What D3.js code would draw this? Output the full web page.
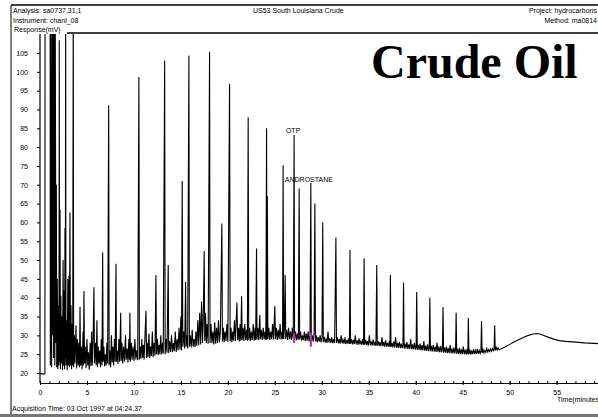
<!DOCTYPE html>
<html><head><meta charset="utf-8">
<script src="https://cdn.jsdelivr.net/npm/d3@7"></script>
<style>body{margin:0;background:#fff}svg{display:block;font-family:"Liberation Sans",Arial,sans-serif}</style>
</head><body><svg id="c" width="598" height="417"></svg>
<script>
const xTickLabels=[0,5,10,15,20,25,30,35,40,45,50,55];
const yTickLabels=[20,25,30,35,40,45,50,55,60,65,70,75,80,85,90,95,100,105];
const headerLeft=["Analysis: sa0737,31,1","Instrument: chanl_08"];
const headerRight=["Project: hydrocarbons","Method: ma0814"];
const sampleName="US53 South Louisiana Crude";
const footerText="Acquisition Time: 03 Oct 1997 at 04:24.37";
const peakLabels=[{name:"OTP",t:27.05,v:83.2},{name:"ANDROSTANE",t:28.83,v:70.5}];
const markTimes=[27.05,28.83];
const markLow=[28.0,27.0];
const markHigh=[30.6,30.6];

const solventTrace=[[0,19.9],[0.3,19.7],[0.52,19.8],[0.54,120],[1.08,120],[1.1,22],[1.14,120],[1.18,25],[1.2,100],[1.24,21.5],[1.28,120],[1.34,30],[1.38,120],[1.45,24],[1.5,120],[1.58,22],[1.62,120],[1.7,28],[1.74,70],[1.78,21.5],[1.84,45],[1.9,21],[1.96,38],[2.02,22],[2.05,108.4],[2.08,23],[2.13,63.5],[2.18,21],[2.22,40.5],[2.28,22.5],[2.34,35],[2.4,20.8],[2.46,50],[2.52,22],[2.58,42],[2.62,21],[2.66,58.5],[2.7,24],[2.73,120],[2.76,22],[2.84,34],[2.9,20.7],[2.96,45],[3.02,22],[3.09,45.8],[3.13,21.5],[3.19,62.6],[3.24,22],[3.3,38],[3.36,21],[3.42,33],[3.48,22],[3.54,120],[3.58,21.5]];
const earlyTrace=[[3.66,30],[3.72,22.5],[3.83,32.6],[3.9,21.2],[3.98,29],[4.06,22],[4.14,28],[4.2,21.5],[4.26,37.6],[4.32,22],[4.4,27],[4.48,21],[4.58,31],[4.62,22],[4.68,41.8],[4.74,22.5],[4.82,27],[4.9,21.3],[5.0,29],[5.08,22],[5.16,25.5],[5.24,20.9],[5.34,28],[5.42,21.8],[5.5,31],[5.56,22],[5.66,30],[5.74,42.8],[5.8,22.5],[5.9,28],[5.98,22],[6.06,34],[6.12,21.5],[6.2,27],[6.28,22.5],[6.36,26],[6.44,21.5],[6.52,29],[6.6,22],[6.67,52],[6.72,23],[6.8,27],[6.88,21.8],[6.96,25],[7.04,22],[7.12,28],[7.2,22.5],[7.31,91.1],[7.36,22],[7.44,26],[7.52,21.5],[7.6,30],[7.68,22.8],[7.76,27],[7.84,22],[7.92,29],[8.0,23],[8.09,49],[8.14,23],[8.22,26],[8.3,22.4],[8.4,29],[8.48,23],[8.59,36],[8.64,23.2],[8.72,28],[8.8,22.5],[8.9,27],[9.0,23],[9.1,30],[9.18,23.5],[9.28,26.5],[9.36,22.8],[9.46,29],[9.52,23.5],[9.57,36],[9.62,23],[9.72,28],[9.8,23.5],[9.9,27],[10.0,23.2],[10.1,29],[10.2,23.6],[10.3,26],[10.4,23.4],[10.53,98.6],[10.58,23.5]];
const midTrace=[[10.66,27],[10.74,23.8],[10.84,29],[10.92,24],[11.0,27.5],[11.08,23.6],[11.18,30],[11.28,36.5],[11.34,24],[11.42,28],[11.5,24.2],[11.6,30.5],[11.68,24],[11.78,27],[11.86,24.5],[11.96,31],[12.04,24.2],[12.14,28],[12.24,24.6],[12.34,46],[12.4,25],[12.5,29],[12.58,24.8],[12.68,27.5],[12.76,25],[12.86,30],[12.94,24.9],[13.04,28],[13.12,25.2],[13.27,103],[13.32,25],[13.42,29],[13.52,25.4],[13.65,48.7],[13.7,25.3],[13.8,28.5],[13.9,25.6],[14.0,30],[14.1,25.5],[14.2,28],[14.3,25.8],[14.4,31],[14.5,25.6],[14.6,29],[14.7,26],[14.8,32],[14.9,26.2],[15.0,35],[15.06,26],[15.14,71],[15.2,27],[15.3,31],[15.4,26.5],[15.5,44.2],[15.56,27],[15.65,30],[15.72,26.5],[15.85,104.3],[15.9,27],[16.0,30],[16.1,26.8],[16.2,31.5],[16.3,27],[16.4,29],[16.5,26.9],[16.6,31],[16.7,27.2],[16.8,34],[16.9,27.4],[17.0,36],[17.1,27.6],[17.2,39],[17.3,28],[17.38,34],[17.48,52.4],[17.54,28.5],[17.62,36],[17.7,28],[17.8,33],[17.9,27.8],[18.05,105.3],[18.1,28],[18.2,33],[18.3,27.9],[18.4,31],[18.5,27.6],[18.6,33.5],[18.7,27.8],[18.8,32],[18.9,28],[19.0,34],[19.1,28.2],[19.2,31],[19.36,59.7],[19.42,28.4],[19.52,32],[19.6,28.2],[19.7,31],[19.8,28.5],[19.9,33],[20.0,28.3],[20.18,96.8],[20.24,28.4],[20.34,32],[20.42,28.2],[20.52,31],[20.6,28.6],[20.7,34],[20.8,28.5],[20.96,38.7],[21.04,28.7],[21.14,32],[21.22,28.4],[21.3,33],[21.38,28.6],[21.46,40.4],[21.52,28.8],[21.62,32],[21.7,28.5],[21.8,33],[21.9,28.7],[22.0,31.5],[22.08,28.6],[22.16,87.9],[22.22,28.8],[22.32,32],[22.4,28.5],[22.5,31],[22.6,28.8],[22.7,33],[22.8,28.6],[22.9,32],[22.96,28.8],[23.05,53.1],[23.1,28.9],[23.2,32],[23.28,28.7],[23.4,35.4],[23.46,29],[23.56,31.5],[23.66,28.8],[23.76,32],[23.86,28.9],[23.96,31],[24.04,28.8],[24.12,85],[24.16,28.9],[24.2,67],[24.26,29],[24.36,32],[24.46,28.8],[24.56,31],[24.66,29],[24.76,33],[24.86,28.9],[25.0,37.8],[25.06,29],[25.16,32],[25.26,28.8],[25.36,31.5],[25.46,29],[25.56,33],[25.66,28.9],[25.76,31],[25.82,29],[25.88,75.2],[25.94,29],[26.02,32],[26.1,46],[26.16,29],[26.26,31.5],[26.36,28.8],[26.46,32],[26.56,29],[26.66,31],[26.76,28.8],[26.86,32],[26.96,29],[27.05,83.2],[27.1,29],[27.2,31],[27.3,28.7],[27.4,30.5],[27.5,28.8],[27.59,69],[27.64,28.9],[27.74,31],[27.84,28.6],[27.94,30],[28.04,28.7],[28.14,31],[28.24,28.5],[28.34,30.5],[28.44,28.6],[28.54,31],[28.64,28.4],[28.74,30],[28.83,70.5],[28.88,28.5],[28.98,30],[29.08,28.3],[29.18,30.5],[29.26,65],[29.32,28.4],[29.42,30],[29.52,28.2],[29.62,29.5],[29.72,28.3],[29.82,30],[29.92,28.1],[30.02,29.5],[30.1,60],[30.16,28.2]];
const lateTrace=[[30.26,29.6],[30.36,28.1],[30.46,29],[30.56,28],[30.66,31],[30.76,28.1],[30.86,29.2],[30.96,28],[31.06,29.5],[31.16,27.9],[31.26,29],[31.36,28],[31.5,56],[31.56,28],[31.66,29.5],[31.76,27.9],[31.86,29],[31.96,27.8],[32.06,30],[32.16,27.9],[32.26,28.8],[32.36,27.8],[32.46,29.5],[32.56,27.7],[32.66,28.8],[32.76,27.8],[32.86,29.2],[32.94,27.7],[33.0,52.7],[33.06,27.8],[33.16,29],[33.26,27.6],[33.36,28.8],[33.46,27.7],[33.56,30],[33.66,27.6],[33.76,28.7],[33.86,27.5],[33.96,29.2],[34.06,27.6],[34.16,28.6],[34.26,27.5],[34.36,29],[34.44,27.5],[34.5,50.5],[34.56,27.5],[34.66,28.8],[34.76,27.4],[34.86,28.5],[34.96,27.3],[35.06,30],[35.16,27.4],[35.26,28.4],[35.36,27.3],[35.46,28.9],[35.56,27.3],[35.66,28.3],[35.76,27.2],[35.85,48.7],[35.9,27.3],[36.0,28.5],[36.1,27.2],[36.2,28.2],[36.3,27.1],[36.4,29.5],[36.5,27.1],[36.6,28.3],[36.7,27],[36.8,28.7],[36.9,27],[37.0,28],[37.1,27],[37.2,28.6],[37.26,26.9],[37.3,46],[37.36,26.9],[37.46,28],[37.56,26.8],[37.66,28.4],[37.76,26.8],[37.86,29.5],[37.96,26.7],[38.06,28],[38.16,26.7],[38.26,28.3],[38.36,26.6],[38.46,27.8],[38.56,26.6],[38.64,27.5],[38.7,44],[38.76,26.5],[38.86,27.8],[38.96,26.5],[39.06,28.2],[39.16,26.4],[39.26,27.6],[39.36,26.4],[39.46,29],[39.56,26.3],[39.66,27.6],[39.76,26.3],[39.86,28],[39.96,26.2],[40.04,27],[40.1,41.5],[40.16,26.2],[40.26,27.5],[40.36,26.1],[40.46,27.8],[40.56,26],[40.66,27.4],[40.76,26],[40.86,28.5],[40.96,25.9],[41.06,27.3],[41.16,25.9],[41.26,27.6],[41.36,25.8],[41.44,26.8],[41.5,40],[41.56,25.8],[41.66,27.2],[41.76,25.7],[41.86,27.5],[41.96,25.7],[42.06,27],[42.16,25.6],[42.26,28],[42.36,25.6],[42.46,27],[42.56,25.5],[42.66,27.2],[42.76,25.5],[42.84,26.5],[42.9,37.5],[42.96,25.4],[43.06,26.8],[43.16,25.4],[43.26,27],[43.36,25.3],[43.46,26.6],[43.56,25.3],[43.66,27.5],[43.76,25.2],[43.86,26.5],[43.96,25.2],[44.06,26.8],[44.16,25.2],[44.24,26.3],[44.3,36],[44.36,25.1],[44.46,26.4],[44.56,25.1],[44.66,26.7],[44.76,25],[44.86,26.3],[44.96,25],[45.06,27],[45.16,25],[45.26,26.2],[45.36,24.9],[45.46,26.4],[45.54,25],[45.6,34.6],[45.66,25],[45.76,26.2],[45.86,24.9],[45.96,26],[46.06,25],[46.16,26.3],[46.26,25],[46.36,26],[46.46,25.1],[46.56,26.4],[46.66,25.1],[46.76,26],[46.86,25.2],[46.94,25.8],[47.0,33.8],[47.06,25.3],[47.16,26.2],[47.26,25.3],[47.36,26],[47.46,25.5],[47.56,26.5],[47.66,25.6],[47.76,26.2],[47.86,25.7],[47.96,26.4],[48.06,25.8],[48.16,26.5],[48.26,25.9],[48.34,26.3],[48.4,32.7],[48.46,26],[48.56,26.8],[48.66,26.1],[48.76,26.7],[48.86,26.2],[49.0,26.3],[49.5,26.9],[50.0,27.6],[50.5,28.3],[51.0,28.9],[51.5,29.5],[52.0,30.0],[52.5,30.35],[52.9,30.5],[53.3,30.3],[53.7,29.9],[54.2,29.4],[54.7,29.0],[55.3,28.6],[56.0,28.4],[57.0,28.2],[58.0,28.0],[59.4,27.8]];

const trace=solventTrace.concat(earlyTrace,midTrace,lateTrace);

const svg=d3.select("#c");
const x=d3.scaleLinear().domain([0,59.4]).range([40,598]);
const y=d3.scaleLinear().domain([20,105]).range([373,53]);
const plotTop=34, axisY=383;

// frame
svg.append("line").attr("x1",11).attr("x2",598).attr("y1",5).attr("y2",5).attr("stroke","#000").attr("stroke-width",1.5);
svg.append("line").attr("x1",11).attr("x2",11).attr("y1",5).attr("y2",414).attr("stroke","#000").attr("stroke-width",1);
svg.append("line").attr("x1",67).attr("x2",598).attr("y1",33).attr("y2",33).attr("stroke","#000").attr("stroke-width",1.5);
svg.append("rect").attr("x",0).attr("y",414).attr("width",598).attr("height",3).attr("fill","#777");

const fs=7;
svg.selectAll("text.hl").data(headerLeft).join("text").attr("class","hl").attr("x",13).attr("y",(d,i)=>13+i*9.5).attr("font-size",fs).text(d=>d);
svg.selectAll("text.hr").data(headerRight).join("text").attr("class","hr").attr("x",597).attr("y",(d,i)=>13+i*9.5).attr("text-anchor","end").attr("font-size",fs).text(d=>d);
svg.append("text").attr("x",253).attr("y",13).attr("font-size",fs).text(sampleName);
svg.append("text").attr("x",14).attr("y",32).attr("font-size",fs).text("Response(mV)");
svg.append("text").attr("x",12).attr("y",411).attr("font-size",fs).text(footerText);
svg.append("text").attr("x",557).attr("y",402).attr("font-size",fs).text("Time(minutes)");
svg.append("text").attr("x",371).attr("y",78).attr("font-family","'Liberation Serif','Times New Roman',serif").attr("font-weight","bold").attr("font-size",48).text("Crude Oil");

// axes
const gx=svg.append("g").attr("transform",`translate(0,${axisY})`);
gx.call(d3.axisBottom(x).tickValues(d3.range(0,60,1)).tickFormat("").tickSizeInner(2).tickSizeOuter(0));
gx.call(g=>g.selectAll(".tick line").attr("y1",-2).attr("y2",1));
const gx2=svg.append("g").attr("transform",`translate(0,${axisY})`);
gx2.call(d3.axisBottom(x).tickValues(xTickLabels).tickSizeInner(3).tickSizeOuter(0).tickPadding(4));
gx2.call(g=>g.select(".domain").remove());
gx2.call(g=>g.selectAll(".tick line").attr("y1",-2).attr("y2",2));
gx2.selectAll("text").attr("font-size",fs).attr("font-family",null);
svg.selectAll(".domain").attr("stroke-width",1.2);

const gy=svg.append("g").attr("transform","translate(40,0)");
gy.call(d3.axisLeft(y).tickValues(yTickLabels).tickSizeInner(3).tickSizeOuter(0).tickPadding(9));
gy.call(g=>g.select(".domain").remove());
gy.selectAll("text").attr("font-size",fs).attr("font-family",null);
svg.append("line").attr("x1",40).attr("x2",40).attr("y1",plotTop).attr("y2",axisY).attr("stroke","#000").attr("stroke-width",1.2);

// trace
svg.append("clipPath").attr("id","clip").append("rect").attr("x",40).attr("y",plotTop).attr("width",558).attr("height",axisY-plotTop);
const line=d3.line().x(d=>x(d[0])).y(d=>y(d[1]));
svg.append("path").datum(trace).attr("clip-path","url(#clip)").attr("d",line).attr("fill","none").attr("stroke","#000").attr("stroke-width",1.1).attr("stroke-linejoin","miter");

svg.selectAll("line.mark").data(markTimes).join("line").attr("class","mark")
  .attr("x1",d=>x(d)).attr("x2",d=>x(d)).attr("y1",(d,i)=>y(markLow[i])).attr("y2",(d,i)=>y(markHigh[i]))
  .attr("stroke","#b030b0").attr("stroke-width",2.2);

svg.append("text").attr("x",x(peakLabels[0].t)-1).attr("y",y(peakLabels[0].v)-2).attr("text-anchor","middle").attr("font-size",fs).text(peakLabels[0].name);
svg.append("text").attr("x",x(peakLabels[1].t)-26).attr("y",y(peakLabels[1].v)-1).attr("font-size",fs).text(peakLabels[1].name);
</script></body></html>
